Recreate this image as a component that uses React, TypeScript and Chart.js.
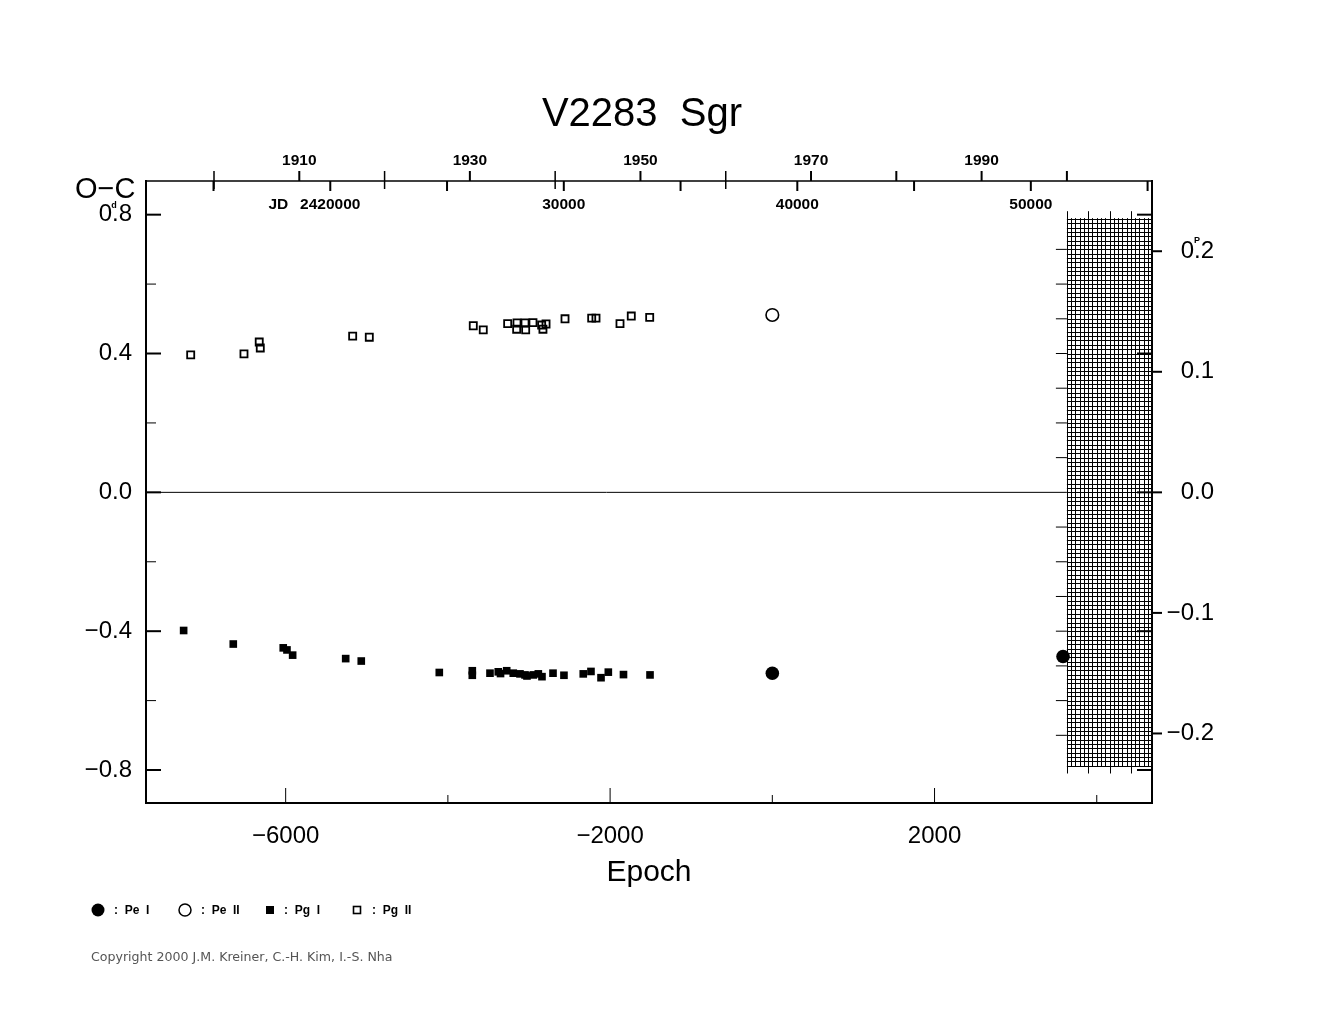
import React, { useEffect, useRef } from 'react';
import { Chart, registerables } from 'chart.js';

Chart.register(...registerables);

// ---- ephemeris / ranges ----
const PERIOD = 3.4734; // days
const T0_JD = 38930; // JD - 2400000 at epoch 0
const X_MIN = -7722;
const X_MAX = 4681;
const Y_MIN = -0.895;
const Y_MAX = 0.897;

// ---- data ----
const PE1_EPOCH = [0, 3584];
const PE1_OC = [-0.521, -0.473];

const PE2_EPOCH = [0];
const PE2_OC = [0.511];

const PG1_EPOCH = [
  -7258, -6646, -6030, -5984, -5914, -5260, -5068, -4106, -3699, -3699,
  -3481, -3379, -3351, -3275, -3194, -3111, -3049, -3025, -2947, -2885,
  -2840, -2704, -2569, -2331, -2236, -2112, -2022, -1835, -1508,
];
const PG1_OC = [
  -0.398, -0.437, -0.448, -0.454, -0.469, -0.479, -0.486, -0.519, -0.514, -0.527,
  -0.521, -0.517, -0.522, -0.514, -0.521, -0.523, -0.526, -0.529, -0.526, -0.523,
  -0.531, -0.521, -0.527, -0.523, -0.516, -0.534, -0.518, -0.525, -0.526,
];

const PG2_EPOCH = [
  -7171, -6514, -6326, -6313, -5174, -4969, -3687, -3564, -3263, -3152,
  -3148, -3049, -3041, -2951, -2844, -2790, -2828, -2556, -2227, -2174,
  -1878, -1739, -1512,
];
const PG2_OC = [
  0.396, 0.399, 0.433, 0.416, 0.450, 0.447, 0.480, 0.468, 0.486, 0.470,
  0.488, 0.488, 0.468, 0.489, 0.482, 0.485, 0.470, 0.500, 0.502, 0.502,
  0.486, 0.508, 0.504,
];

// ---- ticks ----
const BOTTOM_TICKS = [-6000, -4000, -2000, 0, 2000, 4000];
const BOTTOM_LABELS = [-6000, -2000, 2000];
const LEFT_TICKS = [-0.8, -0.6, -0.4, -0.2, 0, 0.2, 0.4, 0.6, 0.8];
const LEFT_LABELS = [-0.8, -0.4, 0, 0.4, 0.8];
const RIGHT_TICKS = [-0.2, -0.1, 0, 0.1, 0.2];
const YEAR_TICKS = [1900, 1910, 1920, 1930, 1940, 1950, 1960, 1970, 1980, 1990, 2000];
const YEAR_LABELS = [1910, 1930, 1950, 1970, 1990];
const YEAR_CROSSING = [1900, 1920, 1940, 1960];
const JD_TICKS = [15000, 20000, 25000, 30000, 35000, 40000, 45000, 50000, 55000];
const JD_LABELS = [20000, 30000, 40000, 50000];
const HATCH_START_YEAR = 2000;

const FONT = '"Liberation Sans", Arial, Helvetica, sans-serif';

const yearToEpoch = (yr: number) => (15020.5 + (yr - 1900) * 365.2422 - T0_JD) / PERIOD;
const jdToEpoch = (jd: number) => (jd - T0_JD) / PERIOD;
const fmt = (v: number, d: number) => (v < -1e-9 ? '\u2212' : '') + Math.abs(v).toFixed(d);
const has = (arr: number[], v: number) => arr.some((a) => Math.abs(a - v) < 1e-9);

function seg(ctx: CanvasRenderingContext2D, x1: number, y1: number, x2: number, y2: number, w: number) {
  ctx.lineWidth = w;
  ctx.beginPath();
  ctx.moveTo(x1, y1);
  ctx.lineTo(x2, y2);
  ctx.stroke();
}

const decor = {
  id: 'decor',
  beforeDatasetsDraw(chart: any) {
    const { ctx, chartArea } = chart;
    const xs = chart.scales.x;
    const ys = chart.scales.y;
    ctx.save();
    ctx.strokeStyle = '#000';
    const hx = xs.getPixelForValue(yearToEpoch(HATCH_START_YEAR));
    // zero line
    seg(ctx, chartArea.left, ys.getPixelForValue(0), hx, ys.getPixelForValue(0), 1);
    // hatch horizontal
    for (let k = -63; k <= 63; k++) {
      const yy = Math.round(ys.getPixelForValue(k * 0.0125)) + 0.5;
      seg(ctx, hx, yy, chartArea.right, yy, 1);
    }
    // hatch vertical
    for (let i = 0; i < 200; i++) {
      const px = xs.getPixelForValue(yearToEpoch(HATCH_START_YEAR + i * 0.5));
      if (px > chartArea.right - 1) break;
      const major = i % 5 === 0;
      const t = ys.getPixelForValue(major ? 0.81 : 0.79);
      const b = ys.getPixelForValue(major ? -0.81 : -0.79);
      const xx = Math.round(px) + 0.5;
      seg(ctx, xx, t, xx, b, 1);
    }
    // ticks left of hatch every 0.1 d
    for (let k = -7; k <= 7; k++) {
      if (k === 0) continue;
      const yy = ys.getPixelForValue(k * 0.1);
      seg(ctx, hx - 11, yy, hx, yy, 1);
    }
    ctx.restore();
  },
  afterDraw(chart: any) {
    const { ctx, chartArea } = chart;
    const xs = chart.scales.x;
    const ys = chart.scales.y;
    const y2 = chart.scales.y2;
    const { left, right, top, bottom } = chartArea;
    ctx.save();
    ctx.strokeStyle = '#000';
    ctx.fillStyle = '#000';
    // frame
    seg(ctx, left, top, right, top, 1.5);
    seg(ctx, left, bottom, right + 1, bottom, 2);
    seg(ctx, left, top - 1, left, bottom + 1, 2);
    seg(ctx, right, top - 1, right, bottom + 1, 2);
    // left ticks (inside) + mirrored right ticks for labelled values
    LEFT_TICKS.forEach((v) => {
      const yy = ys.getPixelForValue(v);
      if (has(LEFT_LABELS, v)) {
        seg(ctx, left, yy, left + 15, yy, 2);
        seg(ctx, right - 15, yy, right, yy, 2);
      } else {
        seg(ctx, left, yy, left + 10, yy, 1);
      }
    });
    // right phase ticks (outside)
    RIGHT_TICKS.forEach((v) => {
      const yy = y2.getPixelForValue(v);
      seg(ctx, right, yy, right + 10, yy, 2);
    });
    // bottom ticks (inside)
    BOTTOM_TICKS.forEach((v) => {
      const px = xs.getPixelForValue(v);
      const len = has(BOTTOM_LABELS, v) ? 15 : 8;
      seg(ctx, px, bottom, px, bottom - len, 1);
    });
    // top: JD ticks (down), year ticks (up)
    JD_TICKS.forEach((j) => {
      const px = xs.getPixelForValue(jdToEpoch(j));
      if (px > left && px < right) seg(ctx, px, top, px, top + 10, 2);
    });
    YEAR_TICKS.forEach((yr) => {
      const px = xs.getPixelForValue(yearToEpoch(yr));
      if (px < left || px > right) return;
      if (has(YEAR_CROSSING, yr)) seg(ctx, px, top - 10, px, top + 8, 1.5);
      else seg(ctx, px, top - 10, px, top, 2);
    });
    // JD labels
    ctx.font = `bold 15.5px ${FONT}`;
    ctx.textBaseline = 'middle';
    JD_LABELS.forEach((j) => {
      const px = xs.getPixelForValue(jdToEpoch(j));
      ctx.textAlign = 'center';
      const txt = j === 20000 ? String(2400000 + j) : String(j);
      ctx.fillText(txt, px, top + 24);
      if (j === 20000) {
        ctx.textAlign = 'right';
        ctx.fillText('JD', px - 42, top + 24);
      }
    });
    // title
    ctx.textAlign = 'center';
    ctx.textBaseline = 'alphabetic';
    ctx.font = `40px ${FONT}`;
    ctx.fillText('V2283  Sgr', 642, 126);
    // O-C label
    ctx.textAlign = 'left';
    ctx.font = `29px ${FONT}`;
    ctx.fillText('O\u2212C', 75, 198);
    // superscripts
    ctx.font = `bold 9px ${FONT}`;
    ctx.textAlign = 'center';
    ctx.textBaseline = 'middle';
    ctx.fillText('d', 114, ys.getPixelForValue(0.8) - 9);
    ctx.fillText('P', 1197, y2.getPixelForValue(0.2) - 11);
    // legend
    const ly = 910;
    ctx.beginPath();
    ctx.arc(98, ly, 6.5, 0, Math.PI * 2);
    ctx.fill();
    ctx.beginPath();
    ctx.lineWidth = 1.5;
    ctx.arc(185, ly, 6, 0, Math.PI * 2);
    ctx.stroke();
    ctx.fillRect(266, ly - 4, 8, 8);
    ctx.lineWidth = 1.6;
    ctx.strokeRect(353.5, ly - 3.5, 7, 7);
    ctx.font = `bold 12px ${FONT}`;
    ctx.textAlign = 'left';
    ctx.fillText(':  Pe  I', 114, ly + 1);
    ctx.fillText(':  Pe  II', 201, ly + 1);
    ctx.fillText(':  Pg  I', 284, ly + 1);
    ctx.fillText(':  Pg  II', 372, ly + 1);
    // copyright
    ctx.fillStyle = '#555';
    ctx.font = '12.6px "DejaVu Sans", Verdana, sans-serif';
    ctx.textBaseline = 'alphabetic';
    ctx.fillText('Copyright 2000 J.M. Kreiner, C.-H. Kim, I.-S. Nha', 91, 961);
    ctx.restore();
  },
};

const pts = (xs: number[], ys: number[]) => xs.map((x, i) => ({ x, y: ys[i] }));

export default function App() {
  const ref = useRef<HTMLCanvasElement | null>(null);
  useEffect(() => {
    if (!ref.current) return;
    const tickFont = { family: FONT, size: 24 };
    const chart = new Chart(ref.current, {
      type: 'scatter',
      data: {
        datasets: [
          {
            label: 'Pe I',
            data: pts(PE1_EPOCH, PE1_OC),
            pointStyle: 'circle',
            pointRadius: 6.8,
            pointHoverRadius: 6.8,
            backgroundColor: '#000',
            borderColor: '#000',
            borderWidth: 0,
          },
          {
            label: 'Pe II',
            data: pts(PE2_EPOCH, PE2_OC),
            pointStyle: 'circle',
            pointRadius: 6.3,
            pointHoverRadius: 6.3,
            backgroundColor: 'rgba(255,255,255,0)',
            borderColor: '#000',
            borderWidth: 1.6,
          },
          {
            label: 'Pg I',
            data: pts(PG1_EPOCH, PG1_OC),
            pointStyle: 'rect',
            pointRadius: 5.4,
            pointHoverRadius: 5.4,
            backgroundColor: '#000',
            borderColor: '#000',
            borderWidth: 0,
          },
          {
            label: 'Pg II',
            data: pts(PG2_EPOCH, PG2_OC),
            pointStyle: 'rect',
            pointRadius: 5,
            pointHoverRadius: 5,
            backgroundColor: 'rgba(255,255,255,0)',
            borderColor: '#000',
            borderWidth: 1.8,
          },
        ],
      },
      options: {
        animation: false,
        responsive: true,
        maintainAspectRatio: false,
        events: [],
        layout: { padding: { left: 0, right: 111, top: 0, bottom: 127 } },
        plugins: {
          legend: { display: false },
          tooltip: { enabled: false },
          title: { display: false },
        },
        scales: {
          x: {
            type: 'linear',
            position: 'bottom',
            min: X_MIN,
            max: X_MAX,
            grid: { display: false, drawTicks: false },
            border: { display: false },
            afterBuildTicks: (s: any) => {
              s.ticks = BOTTOM_TICKS.map((v) => ({ value: v }));
            },
            afterFit: (s: any) => {
              s.height = 90;
            },
            ticks: {
              autoSkip: false,
              maxRotation: 0,
              padding: 19,
              color: '#000',
              font: tickFont,
              callback: (v: any) => (has(BOTTOM_LABELS, Number(v)) ? fmt(Number(v), 0) : ''),
            },
            title: {
              display: true,
              text: 'Epoch',
              color: '#000',
              font: { family: FONT, size: 30 },
              padding: { top: 0, bottom: 2 },
            },
          },
          x2: {
            type: 'linear',
            position: 'top',
            min: X_MIN,
            max: X_MAX,
            grid: { display: false, drawTicks: false },
            border: { display: false },
            afterBuildTicks: (s: any) => {
              s.ticks = YEAR_TICKS.map((yr) => ({ value: yearToEpoch(yr) }));
            },
            afterFit: (s: any) => {
              s.height = 181;
            },
            ticks: {
              autoSkip: false,
              maxRotation: 0,
              padding: 11,
              color: '#000',
              font: { family: FONT, size: 15.5, weight: 'bold' },
              callback: (_v: any, i: number) => (has(YEAR_LABELS, YEAR_TICKS[i]) ? String(YEAR_TICKS[i]) : ''),
            },
          },
          y: {
            type: 'linear',
            position: 'left',
            min: Y_MIN,
            max: Y_MAX,
            grid: { display: false, drawTicks: false },
            border: { display: false },
            afterBuildTicks: (s: any) => {
              s.ticks = LEFT_TICKS.map((v) => ({ value: v }));
            },
            afterFit: (s: any) => {
              s.width = 146;
            },
            ticks: {
              autoSkip: false,
              padding: 14,
              color: '#000',
              font: tickFont,
              callback: (v: any) => (has(LEFT_LABELS, Number(v)) ? fmt(Number(v), 1) : ''),
            },
          },
          y2: {
            type: 'linear',
            position: 'right',
            min: Y_MIN / PERIOD,
            max: Y_MAX / PERIOD,
            grid: { display: false, drawTicks: false },
            border: { display: false },
            afterBuildTicks: (s: any) => {
              s.ticks = RIGHT_TICKS.map((v) => ({ value: v }));
            },
            afterFit: (s: any) => {
              s.width = 62;
            },
            ticks: {
              autoSkip: false,
              padding: 10,
              crossAlign: 'far',
              color: '#000',
              font: tickFont,
              callback: (v: any) => fmt(Number(v), 1),
            },
          },
        },
      } as any,
      plugins: [decor],
    });
    return () => chart.destroy();
  }, []);
  return (
    <div style={{ position: 'absolute', left: 0, top: 0, width: 1325, height: 1020, background: '#fff' }}>
      <canvas ref={ref} />
    </div>
  );
}
